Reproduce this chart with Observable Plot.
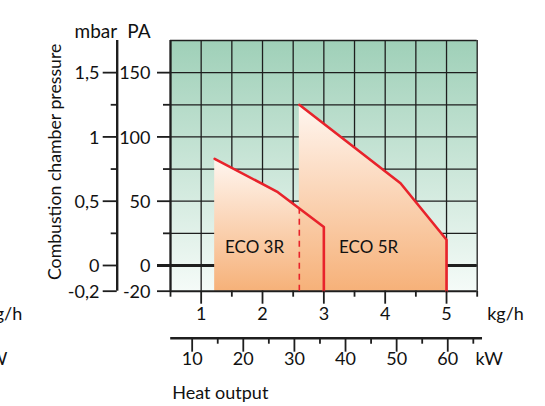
<!DOCTYPE html>
<html><head><meta charset="utf-8">
<script src="https://cdn.jsdelivr.net/npm/d3@7"></script>
<script src="https://cdn.jsdelivr.net/npm/@observablehq/plot@0.6"></script>
<style>body{margin:0;background:#fff} svg{display:block}</style>
</head><body><div id="chart"></div>
<script>
// ---- data ----
const models = ["ECO 3R", "ECO 5R"];
const eco3Kgh = [1.22, 2.25, 3.0];
const eco3Pa = [83, 57, 30];
const eco5Kgh = [2.6, 4.25, 5.0];
const eco5Pa = [125, 64, 20];
const dashKgh = [2.6];
const dashTopPa = [44];
const labelKgh = [1.87, 3.73];
const labelPa = [14, 14];
const kghTicks = [1, 2, 3, 4, 5];
const kghMinor = [0.5, 1.5, 2.5, 3.5, 4.5, 5.5];
const kwTicks = [10, 20, 30, 40, 50, 60];
const kwMinor = [15, 25, 35, 45, 55, 65];
const kwAxisExtent = [5.8, 66.8];
const paTicks = [150, 100, 50, 0, -20];
const paLabels = ["150", "100", "50", "0", "-20"];
const mbarLabels = ["1,5", "1", "0,5", "0", "-0,2"];
const paMinor = [125, 75, 25];
const gridPa = [0, 25, 50, 75, 100, 125, 150, 175];
const gridKgh = [0.5, 1, 1.5, 2, 2.5, 3, 3.5, 4, 4.5, 5, 5.5];
const kwPerKgh = 12, kwOffset = -0.24;
const xDomain = [0.5, 5.5];
const yDomain = [-20, 175];

const toKgh = kw => (kw - kwOffset) / kwPerKgh;
const pts = (xs, ys) => xs.map((x, i) => ({x, y: ys[i]}));
const eco3 = pts(eco3Kgh, eco3Pa);
const eco5 = pts(eco5Kgh, eco5Pa);
const eco3Line = [...eco3, {x: eco3Kgh[eco3Kgh.length - 1], y: yDomain[0]}];
const eco5Line = [...eco5, {x: eco5Kgh[eco5Kgh.length - 1], y: yDomain[0]}];
const labels = models.map((m, i) => ({m, x: labelKgh[i], y: labelPa[i]}));
const dash = dashKgh.map((x, i) => ({x, y2: dashTopPa[i]}));

const INK = "#1e1e1e";
const TXT = "#111";
const RED = "#e8232b";
const FONT = "Lato";
const FS = 18;
const noText = () => "";

const svg = Plot.plot({
  width: 545, height: 406,
  marginLeft: 170, marginRight: 68.3, marginTop: 40, marginBottom: 115.3,
  style: {fontFamily: FONT, background: "white", overflow: "visible"},
  x: {domain: xDomain},
  y: {domain: yDomain},
  marks: [
    Plot.frame({fill: "url(#bgGrad)", stroke: "none"}),
    Plot.ruleY(gridPa, {stroke: INK, strokeWidth: 1.3}),
    Plot.ruleX(gridKgh, {stroke: INK, strokeWidth: 1.3}),
    Plot.ruleY([0], {stroke: INK, strokeWidth: 3, insetLeft: -13}),
    Plot.areaY(eco3, {x: "x", y1: yDomain[0], y2: "y", fill: "url(#orGrad)"}),
    Plot.areaY(eco5, {x: "x", y1: yDomain[0], y2: "y", fill: "url(#orGrad)"}),
    Plot.ruleX([xDomain[0]], {stroke: INK, strokeWidth: 2.2}),
    Plot.ruleY([yDomain[0]], {stroke: INK, strokeWidth: 2}),
    Plot.ruleX(dash, {x: "x", y1: yDomain[0], y2: "y2", stroke: RED, strokeWidth: 1.6, strokeDasharray: "6,5"}),
    Plot.line(eco3Line, {x: "x", y: "y", stroke: RED, strokeWidth: 2.6}),
    Plot.line(eco5Line, {x: "x", y: "y", stroke: RED, strokeWidth: 2.6}),
    Plot.text(labels, {x: "x", y: "y", text: "m", fontSize: 17, fill: TXT, letterSpacing: "-1.9px"}),
    // PA axis (at frame left)
    Plot.axisY(paTicks, {anchor: "left", tickSize: 13, tickFormat: noText, stroke: INK, strokeWidth: 1.8, label: null}),
    Plot.axisY(paMinor, {anchor: "left", tickSize: 7, tickFormat: noText, stroke: INK, strokeWidth: 1.8, label: null}),
    Plot.text(paTicks, {y: d => d, text: (d, i) => paLabels[i], frameAnchor: "left", dx: -20, dy: 1, textAnchor: "end", fontSize: FS, fill: TXT}),
    // mbar axis (offset left)
    Plot.ruleX([xDomain[0]], {y1: yDomain[0], y2: yDomain[1], dx: -53.3, stroke: INK, strokeWidth: 2.4}),
    Plot.axisY(paTicks, {anchor: "left", tickSize: 14, dx: -53.3, tickFormat: noText, stroke: INK, strokeWidth: 1.8, label: null}),
    Plot.axisY(paMinor, {anchor: "left", tickSize: 6, dx: -53.3, tickFormat: noText, stroke: INK, strokeWidth: 1.8, label: null}),
    Plot.text(paTicks, {y: d => d, text: (d, i) => mbarLabels[i], frameAnchor: "left", dx: -71, dy: 1, textAnchor: "end", fontSize: FS, fill: TXT}),
    Plot.text(["mbar"], {frameAnchor: "top-left", dx: -53.3, dy: -16, textAnchor: "end", fontSize: 19, fill: TXT}),
    Plot.text(["PA"], {frameAnchor: "top-left", dx: -43.3, dy: -16, textAnchor: "start", fontSize: 19, fill: TXT}),
    Plot.text(["Combustion chamber pressure"], {frameAnchor: "left", textAnchor: "middle", dx: -115, dy: -4, rotate: -90, fontSize: 17.7, fill: TXT}),
    // kg/h axis
    Plot.axisX(kghTicks, {anchor: "bottom", tickSize: 13, tickFormat: noText, stroke: INK, strokeWidth: 1.8, label: null}),
    Plot.axisX(kghMinor, {anchor: "bottom", tickSize: 6, tickFormat: noText, stroke: INK, strokeWidth: 1.8, label: null}),
    Plot.text(kghTicks, {x: d => d, frameAnchor: "bottom", dy: 29.2, fontSize: FS, fill: TXT}),
    Plot.text(["kg/h"], {frameAnchor: "bottom-right", dx: 10, dy: 29.2, textAnchor: "start", fontSize: FS, fill: TXT}),
    // kW axis
    Plot.ruleY([yDomain[0]], {x1: toKgh(kwAxisExtent[0]), x2: toKgh(kwAxisExtent[1]), dy: 47, stroke: INK, strokeWidth: 2.6}),
    Plot.axisX(kwTicks.map(toKgh), {anchor: "bottom", tickSize: 14, dy: 47, tickFormat: noText, stroke: INK, strokeWidth: 1.8, label: null}),
    Plot.axisX(kwMinor.map(toKgh), {anchor: "bottom", tickSize: 6, dy: 47, tickFormat: noText, stroke: INK, strokeWidth: 1.8, label: null}),
    Plot.text(kwTicks, {x: toKgh, text: d => String(d), frameAnchor: "bottom", dy: 74.2, fontSize: FS, fill: TXT}),
    Plot.text(["kW"], {frameAnchor: "bottom-right", dx: -1.7, dy: 74.2, textAnchor: "start", fontSize: FS, fill: TXT}),
    Plot.text(["Heat output"], {frameAnchor: "bottom-left", dx: 1.7, dy: 107.5, textAnchor: "start", fontSize: FS, fill: TXT}),
    // clipped labels of the neighbouring panel
    Plot.text(["kg/h"], {frameAnchor: "bottom-left", dx: -148.3, dy: 29.2, textAnchor: "end", fontSize: FS, fill: TXT}),
    Plot.text(["kW"], {frameAnchor: "bottom-left", dx: -163, dy: 74.2, textAnchor: "end", fontSize: FS, fill: TXT})
  ]
});

const defs = d3.select(svg).insert("defs", ":first-child");
const bg = defs.append("linearGradient").attr("id", "bgGrad").attr("x1", 0).attr("y1", 0).attr("x2", 0).attr("y2", 1);
bg.append("stop").attr("offset", "0%").attr("stop-color", "#9fd0b8");
bg.append("stop").attr("offset", "100%").attr("stop-color", "#f5fbf8");
const og = defs.append("linearGradient").attr("id", "orGrad").attr("x1", 0).attr("y1", 0).attr("x2", 0).attr("y2", 1);
og.append("stop").attr("offset", "0%").attr("stop-color", "#fff6f0");
og.append("stop").attr("offset", "100%").attr("stop-color", "#f6b179");

document.getElementById("chart").appendChild(svg);
</script>
</body></html>
